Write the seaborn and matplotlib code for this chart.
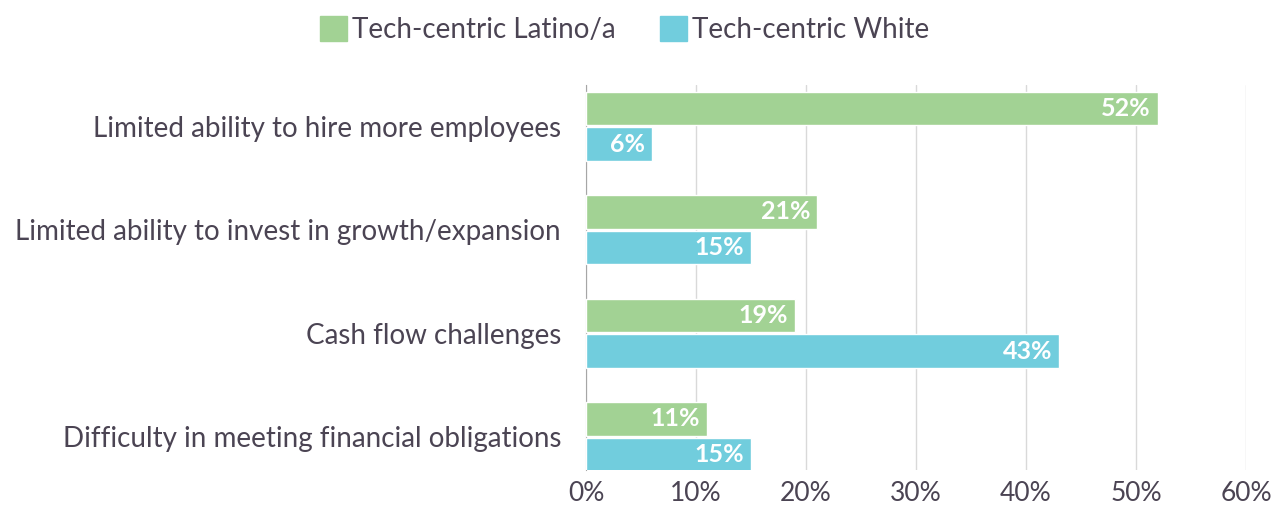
"""Grouped horizontal bar chart: financial impacts by tech-centric group."""

import matplotlib

matplotlib.use("Agg")

import matplotlib.pyplot as plt
import pandas as pd
import seaborn as sns
from matplotlib.ticker import FuncFormatter

categories = [
    "Limited ability to hire more employees",
    "Limited ability to invest in growth/expansion",
    "Cash flow challenges",
    "Difficulty in meeting financial obligations",
]
series_names = ["Tech-centric Latino/a", "Tech-centric White"]
latino_values = [52, 21, 19, 11]
white_values = [6, 15, 43, 15]
x_ticks = [0, 10, 20, 30, 40, 50, 60]

GREEN = "#A2D294"
BLUE = "#71CDDD"
TEXT = "#4B4453"

df = pd.DataFrame(
    {
        "category": categories * 2,
        "group": [series_names[0]] * 4 + [series_names[1]] * 4,
        "value": latino_values + white_values,
    }
)

sns.set_style("white")
plt.rcParams["font.family"] = ["Lato", "DejaVu Sans"]

fig = plt.figure(figsize=(12.74, 5.08), dpi=100)
ax = fig.add_axes([0.46, 0.075, 0.518, 0.758])

sns.barplot(
    data=df,
    y="category",
    x="value",
    hue="group",
    order=categories,
    hue_order=series_names,
    palette=[GREEN, BLUE],
    orient="h",
    width=0.69,
    gap=0.06,
    saturation=1,
    ax=ax,
    legend=False,
    zorder=3,
)

for container in ax.containers:
    texts = ax.bar_label(
        container,
        labels=[f"{v:.0f}%" for v in container.datavalues],
        label_type="edge",
        padding=-5,
        color="white",
        fontweight="bold",
        fontsize=18,
    )
    for t in texts:
        t.set_horizontalalignment("right")

ax.set_xlim(0, 60)
ax.set_ylim(3.32, -0.40)
ax.set_xticks(x_ticks)
ax.xaxis.set_major_formatter(FuncFormatter(lambda v, _: f"{v:.0f}%"))
ax.grid(axis="x", color="#D9D9D9", linewidth=1, zorder=0)
ax.set_axisbelow(True)
ax.set_xlabel("")
ax.set_ylabel("")
for side in ["top", "right", "bottom"]:
    ax.spines[side].set_visible(False)
ax.spines["left"].set_color("#A6A6A6")
ax.tick_params(axis="x", labelsize=19, colors=TEXT, length=0, pad=8)
ax.tick_params(axis="y", labelsize=20, colors=TEXT, length=0, pad=18)

handles = [
    plt.Rectangle((0, 0), 1, 1, color=GREEN),
    plt.Rectangle((0, 0), 1, 1, color=BLUE),
]
fig.legend(
    handles,
    series_names,
    loc="upper center",
    bbox_to_anchor=(0.49, 1.018),
    ncol=2,
    frameon=False,
    fontsize=20,
    labelcolor=TEXT,
    handlelength=1.0,
    handleheight=1.0,
    handletextpad=0.15,
    columnspacing=1.6,
)

fig.savefig("out.png", dpi=100)
